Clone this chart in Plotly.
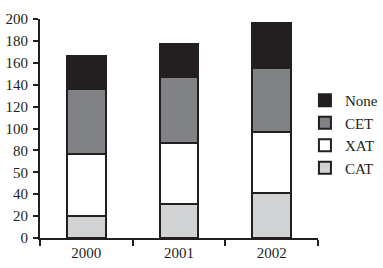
import plotly.graph_objects as go

years = ["2000", "2001", "2002"]
cat = [20, 31, 41]
xat = [57, 56, 56]
cet = [59, 60, 58]
none = [30, 30, 41]

series = [
    ("CAT", cat, "#d1d3d4"),
    ("XAT", xat, "#ffffff"),
    ("CET", cet, "#808285"),
    ("None", none, "#231f20"),
]

ytickvals = [0, 20, 40, 60, 80, 100, 120, 140, 160, 180, 200]
yticktext = ["0", "20", "40", "50", "80", "100", "120", "140", "160", "180", "200"]

ink = "#231f20"
fig = go.Figure()
for name, vals, col in series:
    fig.add_trace(go.Bar(
        x=years, y=vals, name=name,
        marker=dict(color=col, line=dict(color=ink, width=2)),
    ))

fig.update_layout(
    barmode="stack",
    bargap=0.58,
    width=383, height=268,
    margin=dict(l=40, r=65, t=19, b=30, autoexpand=False),
    paper_bgcolor="white", plot_bgcolor="white",
    font=dict(family="Liberation Serif", size=15, color=ink),
    showlegend=True,
    legend=dict(
        x=0.953, xanchor="left", y=0.475, yanchor="middle",
        traceorder="reversed", font=dict(size=15),
        bgcolor="rgba(0,0,0,0)", tracegroupgap=0, itemwidth=30,
    ),
    xaxis=dict(
        type="category", range=[-0.5, 2.5],
        showline=True, linecolor=ink, linewidth=2,
        ticks="outside", tickson="boundaries", ticklen=6, tickwidth=2,
        tickcolor=ink, showgrid=False, zeroline=False,
    ),
    yaxis=dict(
        range=[0, 200], tickvals=ytickvals, ticktext=yticktext,
        showline=True, linecolor=ink, linewidth=2,
        ticks="outside", ticklen=5, tickwidth=2, tickcolor=ink,
        showgrid=False, zeroline=False, ticklabelstandoff=2,
    ),
)

fig.write_html("out.html")
